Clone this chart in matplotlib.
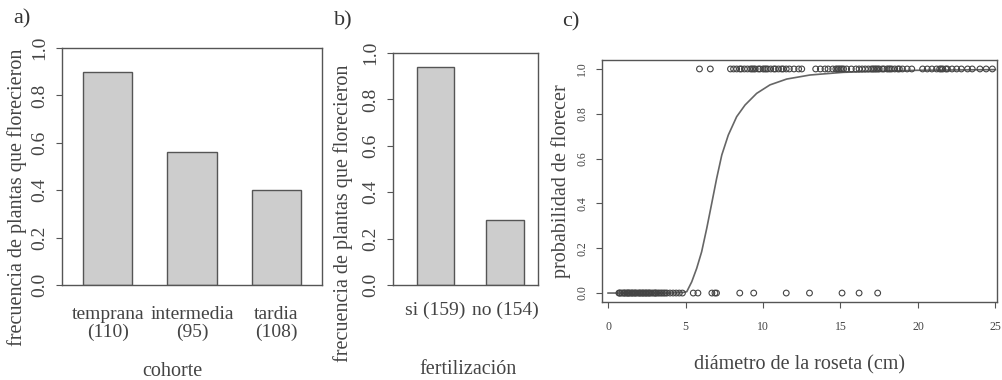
import matplotlib
matplotlib.use("Agg")
import matplotlib.pyplot as plt

plt.rcParams["font.family"] = ["Liberation Serif", "DejaVu Serif"]

# a) cohorte
cohortes = ["temprana\n(110)", "intermedia\n(95)", "tardia\n(108)"]
frec_cohorte = [0.90, 0.56, 0.40]

# b) fertilización
fertilizacion = ["si (159)", "no (154)"]
frec_fert = [0.94, 0.28]

# c) diámetro de la roseta: plantas que no florecieron (0) y que florecieron (1)
diam_no = [0.7, 0.75, 0.8, 0.9, 1.0, 1.05, 1.1, 1.2, 1.25, 1.3, 1.35, 1.4,
           1.5, 1.55, 1.6, 1.7, 1.75, 1.8, 1.9, 2.0, 2.05, 2.1, 2.2, 2.25,
           2.3, 2.4, 2.45, 2.5, 2.6, 2.65, 2.7, 2.8, 2.9, 3.0, 3.05, 3.1,
           3.2, 3.3, 3.4, 3.5, 3.6, 3.7, 3.8, 4.0, 4.2, 4.4, 4.6, 4.8, 5.5,
           5.8, 6.7, 6.9, 7.0, 8.5, 9.4, 11.5, 13.0, 15.1, 16.2, 17.4]
diam_si = [5.9, 6.6, 7.9, 8.1, 8.3, 8.5, 8.6, 8.8, 9.0, 9.2, 9.3, 9.4, 9.5,
           9.7, 9.8, 10.0, 10.1, 10.2, 10.3, 10.5, 10.7, 10.8, 11.0, 11.2,
           11.3, 11.5, 11.7, 12.0, 12.3, 12.5, 13.4, 13.7, 14.0, 14.2, 14.5,
           14.7, 14.8, 14.9, 15.0, 15.1, 15.2, 15.4, 15.7, 16.0, 16.2, 16.4,
           16.6, 16.8, 17.0, 17.1, 17.2, 17.3, 17.4, 17.5, 17.7, 17.8, 18.0,
           18.1, 18.2, 18.3, 18.5, 18.7, 18.8, 19.0, 19.3, 19.6, 20.3, 20.6,
           20.9, 21.2, 21.4, 21.5, 21.6, 21.8, 21.9, 22.2, 22.5, 22.8, 23.2,
           23.5, 24.0, 24.4, 24.8]

# curva ajustada de probabilidad de florecer
curva_x = [0.0, 2.0, 4.0, 4.8, 5.08, 5.40, 5.72, 6.04, 6.37, 6.69, 7.01,
           7.34, 7.76, 8.30, 8.84, 9.59, 10.45, 11.53, 13.03, 15.18, 19.92,
           25.0]
curva_p = [0.0, 0.0, 0.0, 0.002, 0.006, 0.050, 0.110, 0.184, 0.289, 0.400,
           0.512, 0.616, 0.705, 0.787, 0.839, 0.891, 0.929, 0.955, 0.973,
           0.985, 0.994, 0.997]

W, H = 1003, 380
LINE = "#555555"
TEXT = "#444444"
BAR = "#cdcdcd"
TICKS = [0, 0.2, 0.4, 0.6, 0.8, 1.0]
TICK_LABELS = ["0.0", "0.2", "0.4", "0.6", "0.8", "1.0"]

fig = plt.figure(figsize=(W / 100, H / 100), dpi=100)


def px_axes(left, top, right, bottom):
    return fig.add_axes([left / W, 1 - bottom / H, (right - left) / W,
                         (bottom - top) / H])


def estilo(ax, size):
    for sp in ax.spines.values():
        sp.set_color(LINE)
        sp.set_linewidth(1.0)
    ax.tick_params(colors=LINE, labelcolor=TEXT, labelsize=size)
    ax.set_yticks(TICKS)
    ax.set_yticklabels(TICK_LABELS, rotation=90, va="center")


# --- a) ---
ax1 = px_axes(62, 48, 322, 285)
pos1 = [0, 1.7, 3.4]
ax1.bar(pos1, frec_cohorte, width=1.0, color=BAR, edgecolor=LINE, linewidth=1.0)
ax1.set_xlim(-0.92, 4.32)
ax1.set_ylim(0, 1)
ax1.set_xticks(pos1)
ax1.set_xticklabels(cohortes, linespacing=1.1)
estilo(ax1, 14)
ax1.tick_params(axis="x", length=0, pad=15)
ax1.tick_params(axis="y", length=4, pad=6)
fig.text(17 / W, 1 - 197 / H, "frecuencia de plantas que florecieron",
         rotation=90, ha="center", va="center", size=14.5, color=TEXT)
fig.text(172 / W, 1 - 372 / H, "cohorte", ha="center", va="center",
         size=14.5, color=TEXT)
fig.text(22 / W, 1 - 19 / H, "a)", ha="center", va="center", size=16, color="#333333")

# --- b) ---
ax2 = px_axes(393, 53, 538, 285)
pos2 = [0, 1.83]
ax2.bar(pos2, frec_fert, width=1.0, color=BAR, edgecolor=LINE, linewidth=1.0)
ax2.set_xlim(-1.12, 2.70)
ax2.set_ylim(0, 1)
ax2.set_xticks(pos2)
ax2.set_xticklabels(fertilizacion)
estilo(ax2, 14)
ax2.tick_params(axis="x", length=0, pad=12)
ax2.tick_params(axis="y", length=4, pad=6)
fig.text(343 / W, 1 - 213 / H, "frecuencia de plantas que florecieron",
         rotation=90, ha="center", va="center", size=14.5, color=TEXT)
fig.text(468 / W, 1 - 370 / H, "fertilización", ha="center", va="center",
         size=14.5, color=TEXT)
fig.text(343 / W, 1 - 21 / H, "b)", ha="center", va="center", size=16, color="#333333")

# --- c) ---
ax3 = px_axes(602, 60, 997, 302)
ax3.scatter(diam_no, [0] * len(diam_no), s=17, facecolors="none",
            edgecolors="#444444", linewidths=0.8, zorder=3)
ax3.scatter(diam_si, [1] * len(diam_si), s=17, facecolors="none",
            edgecolors="#444444", linewidths=0.8, zorder=3)
ax3.plot(curva_x, curva_p, color="#666666", linewidth=1.2, zorder=2)
ax3.set_xlim(-0.39, 25.1)
ax3.set_ylim(-0.04, 1.04)
ax3.set_xticks([0, 5, 10, 15, 20, 25])
estilo(ax3, 8.5)
ax3.tick_params(axis="x", length=4, pad=10)
ax3.tick_params(axis="y", length=4, pad=6)
ax3.set_xlabel("diámetro de la roseta (cm)", size=14.5, color=TEXT, labelpad=16)
ax3.set_ylabel("probabilidad de florecer", size=14.5, color=TEXT, labelpad=4)
fig.text(571 / W, 1 - 22 / H, "c)", ha="center", va="center", size=16, color="#333333")

fig.savefig("out.png", dpi=100)
